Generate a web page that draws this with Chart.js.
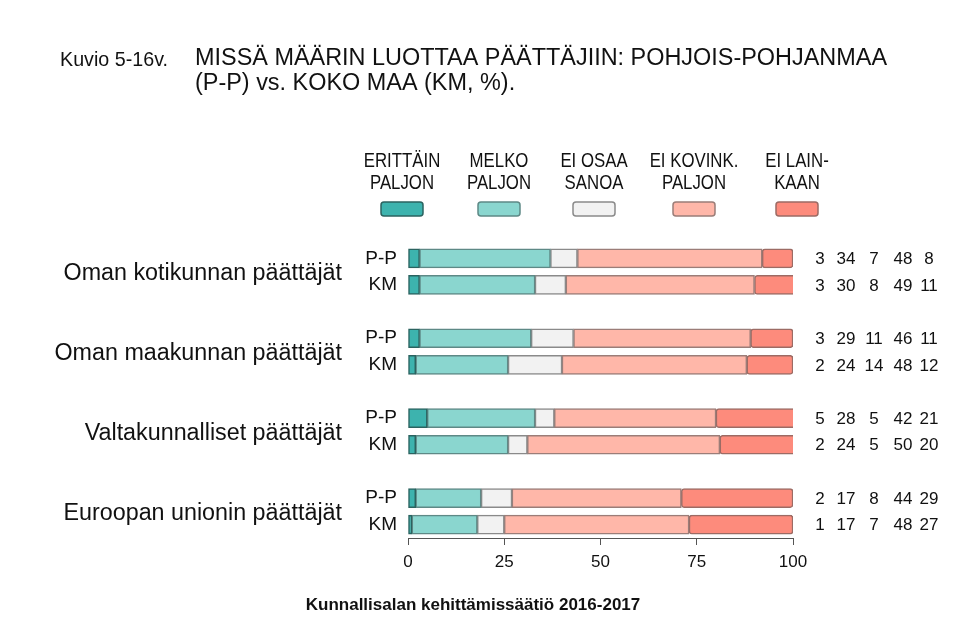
<!DOCTYPE html>
<html>
<head>
<meta charset="utf-8">
<script src="https://cdn.jsdelivr.net/npm/chart.js@4.4.1/dist/chart.umd.min.js"></script>
<style>
  body { margin: 0; background: #fff; }
  #wrap { width: 959px; height: 644px; }
</style>
</head>
<body>
<div id="wrap"><canvas id="chart"></canvas></div>
<script>
// rows: P-P / KM per group, blank rows keep the gaps between groups
const rowLabels = ["P-P", "KM", "", "P-P", "KM", "", "P-P", "KM", "", "P-P", "KM"];
const groupNames = [
  "Oman kotikunnan päättäjät",
  "Oman maakunnan päättäjät",
  "Valtakunnalliset päättäjät",
  "Euroopan unionin päättäjät"
];
const legendNames = [
  ["ERITTÄIN", "PALJON"],
  ["MELKO", "PALJON"],
  ["EI OSAA", "SANOA"],
  ["EI KOVINK.", "PALJON"],
  ["EI LAIN-", "KAAN"]
];

const erittain  = [3, 3, null, 3, 2, null, 5, 2, null, 2, 1];
const melko     = [34, 30, null, 29, 24, null, 28, 24, null, 17, 17];
const eiOsaa    = [7, 8, null, 11, 14, null, 5, 5, null, 8, 7];
const eiKovin   = [48, 49, null, 46, 48, null, 42, 50, null, 44, 48];
const eiLainkaan = [8, 11, null, 11, 12, null, 21, 20, null, 29, 27];

const xTicks = [0, 25, 50, 75, 100];

const fills   = ["#3db3ae", "#8ad6cf", "#f2f2f2", "#ffb7a9", "#fd8b7c"];
const borders = ["#2b6360", "#5e8986", "#8a8a8a", "#9b7d78", "#9c6b64"];

const SANS = "'Liberation Sans', Arial, sans-serif";

const series = [erittain, melko, eiOsaa, eiKovin, eiLainkaan];

// condensed look: draw Liberation Sans squeezed horizontally
function narrowText(ctx, text, x, y, size, sx, align) {
  ctx.save();
  ctx.font = size + "px " + SANS;
  ctx.textAlign = align;
  ctx.translate(x, y);
  ctx.scale(sx, 1);
  ctx.fillText(text, 0, 0);
  ctx.restore();
}

// titles, legend, group names and value columns
const extras = {
  id: "extras",
  afterDraw(chart) {
    const ctx = chart.ctx;
    const y = chart.scales.y;
    ctx.save();
    ctx.fillStyle = "#111";
    ctx.textBaseline = "alphabetic";

    // title, fitted to the reference widths
    ctx.font = "21px " + SANS;
    narrowText(ctx, "Kuvio 5-16v.", 60, 66, 21, 108 / ctx.measureText("Kuvio 5-16v.").width, "left");
    const t1 = "MISSÄ MÄÄRIN LUOTTAA PÄÄTTÄJIIN: POHJOIS-POHJANMAA";
    ctx.font = "23px " + SANS;
    const tsx = 692 / ctx.measureText(t1).width;
    narrowText(ctx, t1, 195, 65, 23, tsx, "left");
    narrowText(ctx, "(P-P) vs. KOKO MAA (KM, %).", 195, 90, 23, tsx, "left");

    // legend
    const lx = [402, 499, 594, 694, 797];
    legendNames.forEach((lines, i) => {
      ctx.fillStyle = "#111";
      narrowText(ctx, lines[0], lx[i], 167, 21, 0.8, "center");
      narrowText(ctx, lines[1], lx[i], 189, 21, 0.8, "center");
      ctx.beginPath();
      ctx.roundRect(lx[i] - 21, 202, 42, 14, 3);
      ctx.fillStyle = fills[i];
      ctx.fill();
      ctx.lineWidth = 1.5;
      ctx.strokeStyle = borders[i];
      ctx.stroke();
    });

    // group names, centred between the two rows
    ctx.fillStyle = "#111";
    ctx.textAlign = "right";
    ctx.textBaseline = "middle";
    ctx.font = "23.3px " + SANS;
    groupNames.forEach((g, i) => {
      const yc = (y.getPixelForValue(i * 3) + y.getPixelForValue(i * 3 + 1)) / 2;
      ctx.fillText(g, 342, yc + 2);
    });

    // value columns
    const cols = [820, 846, 874, 903, 929];
    ctx.textAlign = "center";
    ctx.font = "17px " + SANS;
    rowLabels.forEach((lab, r) => {
      if (!lab) return;
      const yc = y.getPixelForValue(r);
      series.forEach((s, k) => {
        ctx.fillText(String(s[r]), cols[k], yc + 1);
      });
    });

    // source
    ctx.textBaseline = "alphabetic";
    ctx.font = "bold 17px " + SANS;
    ctx.fillText("Kunnallisalan kehittämissäätiö 2016-2017", 473, 610);
    ctx.restore();
  }
};

const names = legendNames.map(l => l.join(" "));

new Chart(document.getElementById("chart"), {
  type: "bar",
  data: {
    labels: rowLabels,
    datasets: series.map((s, i) => ({
      label: names[i],
      data: s,
      backgroundColor: fills[i],
      borderColor: borders[i],
      borderWidth: 1.5,
      borderRadius: 3,
      borderSkipped: false,
      barThickness: 19
    }))
  },
  options: {
    indexAxis: "y",
    responsive: true,
    maintainAspectRatio: false,
    animation: false,
    layout: { padding: { left: 0, right: 166, top: 245, bottom: 76 } },
    plugins: { legend: { display: false }, tooltip: { enabled: false } },
    scales: {
      x: {
        stacked: true,
        min: 0,
        max: 100,
        afterBuildTicks: s => { s.ticks = xTicks.map(v => ({ value: v })); },
        afterFit: s => { s.height = 30; },
        grid: { drawOnChartArea: false, drawTicks: true, tickLength: 7, color: "#555", lineWidth: 1 },
        border: { display: true, color: "#555", width: 1 },
        ticks: { color: "#111", font: { family: SANS, size: 17 }, padding: 7, maxRotation: 0 }
      },
      y: {
        stacked: true,
        afterFit: s => { s.width = 408; },
        grid: { display: false, drawTicks: false },
        border: { display: false },
        ticks: { color: "#111", font: { family: SANS, size: 19 }, padding: 11, autoSkip: false }
      }
    }
  },
  plugins: [extras]
});
</script>
</body>
</html>
